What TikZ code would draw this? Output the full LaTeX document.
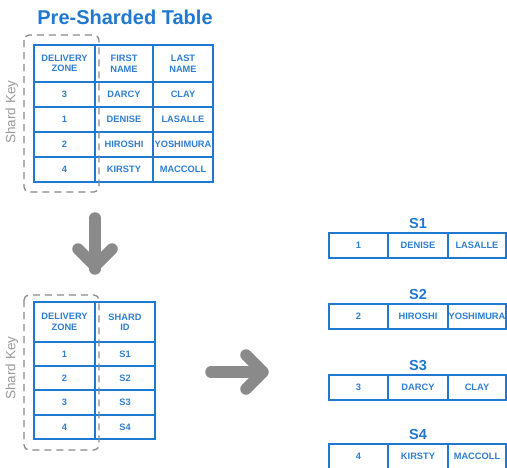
\documentclass[tikz,border=0pt]{standalone}
\usepackage{fontspec}
\setmainfont{Liberation Sans}

\definecolor{tblblue}{HTML}{1F78D2}
\definecolor{txtblue}{HTML}{2F7FD3}
\definecolor{keygray}{HTML}{9B9B9B}
\definecolor{arrgray}{HTML}{8A8A8A}

\tikzset{
  grid/.style={draw=tblblue, line width=1.8pt},
  cell/.style={text=txtblue, font=\fontsize{9.3}{10.5}\selectfont\bfseries, align=center, inner sep=0pt},
  tabletitle/.style={text=tblblue, font=\fontsize{20}{23}\selectfont\bfseries},
  shardlbl/.style={text=tblblue, font=\fontsize{14.5}{16}\selectfont\bfseries, anchor=base},
  keybox/.style={draw=arrgray, line width=1.3pt, dash pattern=on 7pt off 5pt, rounded corners=5pt},
  keylbl/.style={text=keygray, font=\fontsize{13.5}{15}\selectfont, rotate=90},
  bigarrow/.style={draw=arrgray, line width=11.5pt, line cap=round, line join=round},
}

\begin{document}
\begin{tikzpicture}[x=1pt, y=-1pt]
  \useasboundingbox (0,0) rectangle (507,467);
  \fill[white] (0,0) rectangle (507,467);

  % table before sharding
  \node[tabletitle] (title) at (125,17) {Pre-Sharded Table};
  \draw[grid] (34,45) rectangle (213,182);
  \foreach \y in {82,107,132,157}
    \draw[grid] (34,\y) -- (213,\y);
  \foreach \x in {95,153}
    \draw[grid] (\x,45) -- (\x,182);
  \node[cell] (pre-h1) at (64.5,63.5) {DELIVERY\\ZONE};
  \node[cell] (pre-h2) at (124,63.5) {FIRST\\NAME};
  \node[cell] (pre-h3) at (183,63.5) {LAST\\NAME};
  \foreach \zone/\first/\last [count=\i] in {3/DARCY/CLAY, 1/DENISE/LASALLE,
      2/HIROSHI/YOSHIMURA, 4/KIRSTY/MACCOLL} {
    \node[cell] (pre-z\i) at (64.5,{69.5+25*\i}) {\zone};
    \node[cell] (pre-f\i) at (124,{69.5+25*\i}) {\first};
    \node[cell] (pre-l\i) at (183,{69.5+25*\i}) {\last};
  }
  \draw[keybox] (24,35) rectangle (99,192);
  \node[keylbl] (prekey) at (12,112) {Shard Key};

  % arrow down
  \coordinate (down-top) at (95,218);
  \coordinate (down-tip) at (95,266);
  \draw[bigarrow] (down-top) -- ([yshift=-3pt]down-tip);
  \draw[bigarrow] (down-tip) ++(-17,-17) -- (down-tip) -- ++(17,-17);

  % lookup table zone -> shard
  \draw[grid] (34,302) rectangle (155,439);
  \foreach \y in {342,366,390,415}
    \draw[grid] (34,\y) -- (155,\y);
  \draw[grid] (95,302) -- (95,439);
  \node[cell] (map-h1) at (64.5,322) {DELIVERY\\ZONE};
  \node[cell] (map-h2) at (125,322) {SHARD\\ID};
  \foreach \zone/\y [count=\i] in {1/354, 2/378, 3/402.5, 4/427} {
    \node[cell] (map-z\i) at (64.5,\y) {\zone};
    \node[cell] (map-s\i) at (125,\y) {S\zone};
  }
  \draw[keybox] (24,295) rectangle (99,450);
  \node[keylbl] (mapkey) at (12,368) {Shard Key};

  % arrow right
  \coordinate (right-tail) at (211,372);
  \coordinate (right-tip) at (263,372);
  \draw[bigarrow] (right-tail) -- ([xshift=-3pt]right-tip);
  \draw[bigarrow] (right-tip) ++(-17,-17) -- (right-tip) -- ++(-17,17);

  % the four shards
  \foreach \top/\zone/\first/\last [count=\s] in {233/1/DENISE/LASALLE,
      304/2/HIROSHI/YOSHIMURA, 375/3/DARCY/CLAY, 444/4/KIRSTY/MACCOLL} {
    \node[shardlbl] (shard\s) at (418,\top-5) {S\s};
    \draw[grid] (329,\top) rectangle (506,\top+25);
    \foreach \x in {388,448}
      \draw[grid] (\x,\top) -- (\x,\top+25);
    \node[cell] (s\s-z) at (358.5,\top+12.5) {\zone};
    \node[cell] (s\s-f) at (418,\top+12.5) {\first};
    \node[cell] (s\s-l) at (477,\top+12.5) {\last};
  }
\end{tikzpicture}
\end{document}
